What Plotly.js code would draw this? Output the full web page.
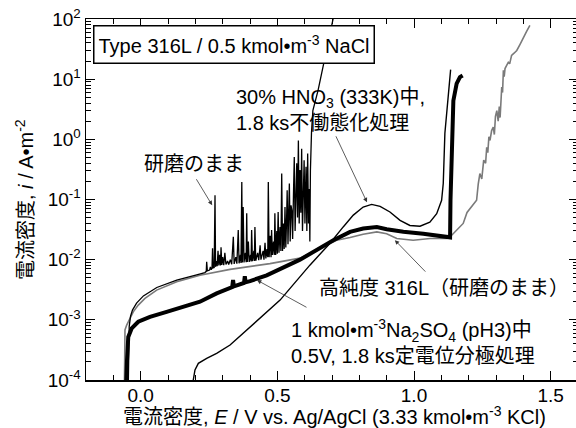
<!DOCTYPE html>
<html>
<head>
<meta charset="utf-8">
<script src="https://cdn.plot.ly/plotly-3.0.1.min.js"></script>
<style>
html,body{margin:0;padding:0;overflow:hidden;background:#fff;}
#chart{width:580px;height:428px;}
</style>
</head>
<body>
<div id="chart"></div>
<script>
// Potential E (V vs. Ag/AgCl) and current density i (A/m^2)
// As-polished (研磨のまま), thin black
var polishedE = [-0.046,-0.045,-0.043,-0.042,-0.037,-0.030,-0.015,0.010,0.059,0.132,0.205,0.235,
  0.240,0.2415,0.244,0.252,0.255,0.258,0.261,0.263,0.265,0.269,0.272,0.274,0.277,0.280,0.283,0.286,0.289,0.292,0.294,0.297,
  0.300,0.304,0.308,0.312,0.318,0.322,0.328,0.333,0.339,0.342,0.348,0.352,0.357,0.360,0.365,0.367,0.370,0.372,0.375,0.378,
  0.383,0.386,0.388,0.390,0.394,0.397,0.402,0.404,0.406,0.409,0.414,0.416,0.418,0.421,0.428,0.432,0.437,0.440,0.448,0.451,
  0.455,0.458,0.462,0.465,0.467,0.470,0.474,0.477,0.479,0.482,0.486,0.489,0.491,0.494,0.498,0.500,0.503,0.506,0.510,0.513,
  0.516,0.519,0.522,0.525,0.528,0.531,0.534,0.536,0.539,0.542,0.544,0.547,0.550,0.553,0.556,0.559,0.562,0.565,0.568,0.571,
  0.574,0.577,0.580,0.583,0.586,0.589,0.592,0.595,0.598,0.601,0.605,0.608,0.611,0.614,0.617,0.619,0.621,0.625,0.630,0.649,
  0.667,0.690,0.712];
var polishedI = [5e-5,1e-4,4e-4,7.7e-4,1.15e-3,1.45e-3,1.9e-3,2.5e-3,3.45e-3,4.55e-3,5.6e-3,6.1e-3,
  6.4e-3,9.2e-3,6.5e-3,6.7e-3,7.6e-3,6.8e-3,7.2e-3,1.55e-2,7.3e-3,7.4e-3,0.118,7.6e-3,9.5e-3,7.8e-3,1.4e-2,8.0e-3,1.2e-2,8.0e-3,1.6e-2,8.2e-3,
  1.1e-2,8.1e-3,1.3e-2,8.3e-3,9.5e-3,8.3e-3,1.0e-2,8.4e-3,2.4e-2,8.5e-3,1.1e-2,8.6e-3,3.1e-2,8.7e-3,1.2e-2,8.8e-3,0.195,9.0e-3,7.5e-2,9.0e-3,
  1.3e-2,9.1e-3,5.9e-2,9.2e-3,2.0e-2,9.2e-3,1.2e-2,9.3e-3,3.1e-2,9.4e-3,1.4e-2,9.5e-3,3.5e-2,9.6e-3,1.3e-2,9.8e-3,1.74e-2,1.0e-2,1.4e-2,1.0e-2,
  1.9e-2,1.05e-2,1.5e-2,1.1e-2,0.195,1.1e-2,2.5e-2,1.1e-2,3.1e-2,1.2e-2,2.0e-2,1.2e-2,5.9e-2,1.2e-2,3.0e-2,1.25e-2,6.2e-2,1.3e-2,3.5e-2,1.4e-2,
  0.27,1.4e-2,4.0e-2,1.5e-2,7.5e-2,1.6e-2,5.0e-2,0.143,1.8e-2,6.0e-2,0.184,2.0e-2,8.0e-2,6.6e-2,2.2e-2,0.12,0.51,3.0e-2,0.20,0.40,
  5.0e-2,0.96,4.0e-2,0.31,6.0e-2,0.70,3.0e-2,0.20,0.45,4.0e-2,0.35,3.0e-2,0.58,4.0e-2,0.15,2.0e-2,0.3,1.3,3.0,6.5,
  16.9,50,150];

// 30% HNO3 (333K) passivated, thin black
var nitricE = [0.191,0.1925,0.1987,0.211,0.2415,0.278,0.327,0.418,0.510,0.619,0.692,0.741,0.778,0.814,0.845,0.876,
  0.912,0.949,0.985,1.022,1.058,1.083,1.101,1.107,1.113,1.134];
var nitricI = [5e-5,1e-4,1.47e-4,1.89e-4,2.29e-4,2.77e-4,3.81e-4,9.0e-4,2.13e-3,8.1e-3,1.86e-2,3.5e-2,5.5e-2,7.5e-2,8.3e-2,7.7e-2,
  6.2e-2,4.5e-2,3.7e-2,3.6e-2,4.2e-2,5.8e-2,9.7e-2,0.184,1.26,14.4];

// High-purity 316L as-polished, gray
var pureE = [-0.060,-0.0593,-0.0574,-0.0512,-0.0392,-0.0271,-0.0088,0.0157,0.0585,0.132,0.217,0.327,0.473,0.583,0.650,
  0.717,0.766,0.814,0.864,0.900,0.937,0.997,1.059,1.120,1.138,1.180,1.194,1.229,1.235,1.241,1.248,1.255,1.262,1.266,
  1.270,1.274,1.278,1.284,1.290,1.294,1.298,1.303,1.308,1.312,1.315,1.318,1.321,1.324,1.327,1.330,1.333,1.339,1.345,
  1.350,1.357,1.366,1.376,1.388,1.400,1.412,1.424];
var pureI = [5e-5,1e-4,6.8e-4,8.2e-4,1.06e-3,1.36e-3,1.76e-3,2.27e-3,3.12e-3,4.3e-3,5.5e-3,6.9e-3,8.6e-3,1.06e-2,1.5e-2,
  2.1e-2,2.33e-2,2.65e-2,2.9e-2,2.7e-2,2.25e-2,2.1e-2,2.25e-2,2.25e-2,2.55e-2,4.0e-2,6.1e-2,9.7e-2,0.18,0.27,0.22,0.45,0.40,0.74,
  0.6,1.1,0.96,1.4,1.6,1.2,2.4,3.0,2.0,3.5,2.3,5.0,7.4,6.0,14,11,15,16.9,19,
  18,24.8,27,30,38,50,62,78];

// Na2SO4 (pH3) 0.5 V potentiostatic treatment, thick black
var sulfateE = [-0.055,-0.0538,-0.050,-0.0454,-0.033,-0.0088,0.034,0.095,0.156,0.217,0.278,0.327,0.335,0.338,0.341,
  0.378,0.381,0.384,0.400,0.461,0.583,0.705,0.766,0.814,0.864,0.900,0.961,1.034,1.095,1.125,1.132,1.1335,1.137,1.144,1.156,1.168,1.178];
var sulfateI = [5e-5,1e-4,2.1e-4,5.2e-4,7.2e-4,9.3e-4,1.12e-3,1.36e-3,1.65e-3,2.0e-3,2.75e-3,3.4e-3,3.5e-3,4.6e-3,3.6e-3,
  4.1e-3,5.3e-3,4.2e-3,4.4e-3,5.5e-3,1.0e-2,2.1e-2,2.9e-2,3.3e-2,3.5e-2,3.2e-2,2.9e-2,2.7e-2,2.45e-2,2.3e-2,2.35e-2,9.7e-2,0.66,4.4,8.4,10.8,11.5];

var xTickVals = [0, 0.5, 1.0, 1.5];
var xTickText = ['0.0', '0.5', '1.0', '1.5'];
var yTickVals = [1e-4, 1e-3, 1e-2, 1e-1, 1e0, 1e1, 1e2];
var yTickText = ['10<sup>-4</sup>', '10<sup>-3</sup>', '10<sup>-2</sup>', '10<sup>-1</sup>', '10<sup>0</sup>', '10<sup>1</sup>', '10<sup>2</sup>'];

var FONT = 'Liberation Sans, Arial, Noto Sans CJK JP, sans-serif';

var traces = [
  {x: pureE, y: pureI, mode: 'lines', line: {color: '#7a7a7a', width: 1.6}},
  {x: nitricE, y: nitricI, mode: 'lines', line: {color: '#000', width: 1.4}},
  {x: sulfateE, y: sulfateI, mode: 'lines', line: {color: '#000', width: 4}},
  {x: polishedE, y: polishedI, mode: 'lines', line: {color: '#000', width: 1.3}}
];

var arrowStyle = {showarrow: true, arrowhead: 2, arrowsize: 1.1, arrowwidth: 0.8, arrowcolor: '#333',
  text: ' ', font: {size: 1}, xref: 'x', yref: 'y', standoff: 0};

function arrow(x, y, ax, ay) {
  return Object.assign({}, arrowStyle, {x: x, y: y, ax: ax, ay: ay});
}

var annotations = [
  {text: 'Type 316L / 0.5 kmol•m<sup>-3</sup> NaCl', xref: 'paper', yref: 'paper', x: 0.0142, y: 0.983,
   xanchor: 'left', yanchor: 'top', showarrow: false, bgcolor: '#fff', bordercolor: '#000', borderwidth: 1.5, borderpad: 4,
   height: 28, valign: 'middle',
   font: {family: FONT, size: 20, color: '#000'}},
  {text: '研磨のまま', xref: 'paper', yref: 'paper', x: 0.2195, y: 0.598, xanchor: 'center', yanchor: 'middle',
   showarrow: false, font: {family: FONT, size: 20, color: '#000'}},
  {text: '30% HNO<sub>3</sub> (333K)中,<br>1.8 ks不働態化処理', xref: 'paper', yref: 'paper', x: 0.3008, y: 0.749,
   xanchor: 'left', yanchor: 'middle', align: 'left', showarrow: false, font: {family: FONT, size: 20, color: '#000'}},
  {text: '高純度 316L（研磨のまま）', xref: 'paper', yref: 'paper', x: 0.7276, y: 0.2548, xanchor: 'center', yanchor: 'middle',
   showarrow: false, font: {family: FONT, size: 20, color: '#000'}},
  {text: '1 kmol•m<sup>-3</sup>Na<sub>2</sub>SO<sub>4</sub> (pH3)中<br>0.5V, 1.8 ks定電位分極処理', xref: 'paper', yref: 'paper',
   x: 0.4126, y: 0.1066, xanchor: 'left', yanchor: 'middle', align: 'left', showarrow: false,
   font: {family: FONT, size: 20, color: '#000'}},
  {text: '電流密度, <i>E</i> / V vs. Ag/AgCl (3.33 kmol•m<sup>-3</sup> KCl)', xref: 'paper', yref: 'paper',
   x: 0.506, y: -0.099, xanchor: 'center', yanchor: 'middle', showarrow: false,
   font: {family: FONT, size: 20, color: '#000'}},
  {text: '電流密度, <i>i</i> / A•m<sup>-2</sup>', xref: 'paper', yref: 'paper', textangle: -90,
   x: -0.125, y: 0.5, xanchor: 'center', yanchor: 'middle', showarrow: false,
   font: {family: FONT, size: 20, color: '#000'}},
  arrow(0.2616, -1.095, -17, -28),
  arrow(0.828, -1.046, -32, -68),
  arrow(0.930, -1.676, 32, 33),
  arrow(0.4255, -2.340, 51, 28)
];

var layout = {
  width: 580, height: 428,
  margin: {l: 86, r: 2, t: 19, b: 48},
  paper_bgcolor: '#fff', plot_bgcolor: '#fff',
  showlegend: false,
  font: {family: FONT, size: 19, color: '#000'},
  xaxis: {
    range: [-0.2, 1.6], tickmode: 'array', tickvals: xTickVals, ticktext: xTickText,
    ticks: 'inside', ticklen: 9, tickwidth: 1, tickcolor: '#000', ticklabelstandoff: -2,
    minor: {tickmode: 'linear', tick0: 0, dtick: 0.1, ticks: 'inside', ticklen: 5, tickwidth: 1, tickcolor: '#000'},
    showline: true, linecolor: '#000', linewidth: 1.5, mirror: 'allticks',
    showgrid: false, zeroline: false,
    tickfont: {family: FONT, size: 19, color: '#000'}
  },
  yaxis: {
    type: 'log', range: [-4, 2], tickmode: 'array', tickvals: yTickVals, ticktext: yTickText,
    ticks: 'inside', ticklen: 9, tickwidth: 1, tickcolor: '#000',
    minor: {dtick: 'D1', ticks: 'inside', ticklen: 5, tickwidth: 1, tickcolor: '#000'},
    showline: true, linecolor: '#000', linewidth: 1.5, mirror: 'allticks',
    showgrid: false, zeroline: false,
    tickfont: {family: FONT, size: 19, color: '#000'}
  },
  annotations: annotations
};

Plotly.newPlot('chart', traces, layout, {staticPlot: true, displayModeBar: false});
</script>
</body>
</html>
